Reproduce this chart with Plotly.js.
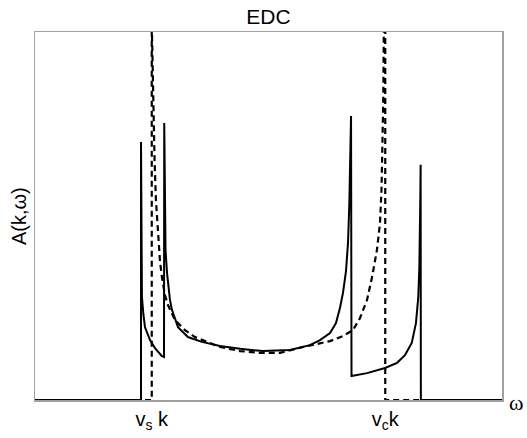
<!DOCTYPE html>
<html>
<head>
<meta charset="utf-8">
<script src="https://cdn.plot.ly/plotly-3.0.1.min.js"></script>
<style>html,body{margin:0;padding:0;background:#fff;}#chart{width:527px;height:438px;}</style>
</head>
<body>
<div id="chart"></div>
<script>
// x in units where v_s k = 1 and v_c k = 3; y is spectral weight (arbitrary units)
var tickVals = [1, 3];
var tickText = ["v<sub>s</sub> k", "v<sub>c</sub>k"];

// Solid curve
var solidX = [0, 0.908, 0.908, 0.910, 0.913, 0.916, 0.929, 0.942, 0.985, 1.028, 1.085, 1.105,
  1.107, 1.110, 1.118, 1.131, 1.156, 1.173, 1.225, 1.310, 1.430, 1.585, 1.756, 1.953, 2.184,
  2.355, 2.441, 2.527, 2.578, 2.612, 2.638, 2.664, 2.681, 2.692, 2.701, 2.707,
  2.711, 2.844, 2.998, 3.101, 3.169, 3.227, 3.263, 3.283, 3.292, 3.298, 3.300, 3.303, 3.305, 4];
var solidY = [0, 0, 0.701, 0.543, 0.380, 0.280, 0.231, 0.198, 0.163, 0.141, 0.120, 0.117,
  0.753, 0.543, 0.408, 0.345, 0.272, 0.245, 0.198, 0.171, 0.158, 0.147, 0.139, 0.133, 0.136,
  0.149, 0.163, 0.182, 0.209, 0.250, 0.291, 0.351, 0.427, 0.530, 0.652, 0.772,
  0.065, 0.073, 0.087, 0.101, 0.122, 0.155, 0.209, 0.280, 0.361, 0.454, 0.543, 0.639, 0, 0];

// Dashed curve
var dashX = [0, 1.0, 1.0, 1.005, 1.011, 1.024, 1.036, 1.054, 1.071, 1.088, 1.113, 1.139, 1.199,
  1.285, 1.370, 1.456, 1.585, 1.756, 1.927, 2.099, 2.296, 2.527, 2.638, 2.724, 2.784, 2.844,
  2.887, 2.929, 2.955, 2.968, 2.976, 2.983, 2.987, 2.989, 3.0, 3.0, 4];
var dashY = [0, 0, 1.03, 0.924, 0.815, 0.652, 0.543, 0.448, 0.375, 0.332, 0.285, 0.258, 0.217,
  0.190, 0.171, 0.160, 0.144, 0.133, 0.128, 0.128, 0.144, 0.160, 0.174, 0.190, 0.223, 0.272,
  0.334, 0.408, 0.481, 0.571, 0.679, 0.815, 0.978, 1.03, 1.03, 0, 0];

var traces = [
  {x: dashX, y: dashY, mode: 'lines', line: {color: '#000', width: 2.2, dash: '6px,4px'}, hoverinfo: 'skip'},
  {x: solidX, y: solidY, mode: 'lines', line: {color: '#000', width: 2}, hoverinfo: 'skip'}
];

var layout = {
  width: 527, height: 438,
  margin: {l: 35, r: 25, t: 32, b: 38},
  paper_bgcolor: '#fff', plot_bgcolor: '#fff',
  showlegend: false,
  font: {family: 'Liberation Sans, Arial, sans-serif', color: '#000'},
  title: {text: 'EDC', font: {size: 21, family: 'Liberation Sans, Arial, sans-serif', color: '#000'},
          x: 0.5, xref: 'paper', y: 0.963, yref: 'container', yanchor: 'middle'},
  xaxis: {range: [0, 4], showgrid: false, zeroline: false, showline: true, mirror: true,
          linecolor: '#a0a0a0', linewidth: 1.5, ticks: '', tickvals: tickVals, ticktext: tickText,
          tickfont: {size: 20, color: '#000'}, fixedrange: true},
  yaxis: {range: [0, 1], showgrid: false, zeroline: false, showline: true, mirror: true,
          linecolor: '#a0a0a0', linewidth: 1.5, ticks: '', showticklabels: false, fixedrange: true},
  annotations: [
    {text: 'A(k,\u03c9)', xref: 'paper', yref: 'paper', x: -0.034, y: 0.5, xanchor: 'center', yanchor: 'middle',
     textangle: -90, showarrow: false, font: {size: 20, color: '#000'}},
    {text: '\u03c9', xref: 'paper', yref: 'paper', x: 1.05, y: -0.008, xanchor: 'right', yanchor: 'middle',
     showarrow: false, font: {size: 22, family: 'Liberation Serif, Times New Roman, serif', color: '#000'}}
  ]
};

Plotly.newPlot('chart', traces, layout, {staticPlot: true, displayModeBar: false});
</script>
</body>
</html>
